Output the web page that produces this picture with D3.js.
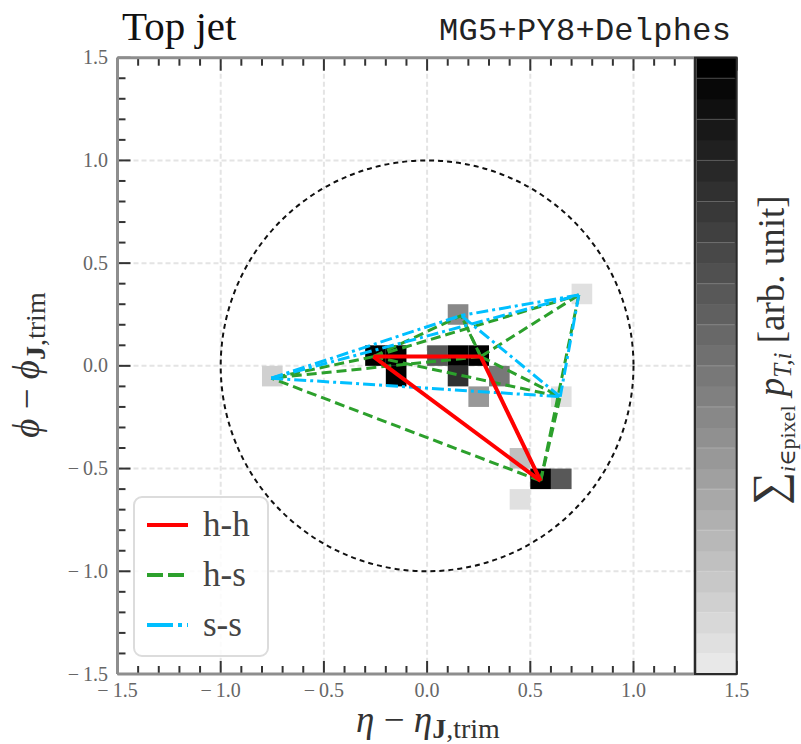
<!DOCTYPE html>
<html>
<head>
<meta charset="utf-8">
<script src="https://cdn.jsdelivr.net/npm/d3@7"></script>
<style>
  html, body { margin: 0; padding: 0; background: #fff; }
  svg { display: block; }
  text { font-family: "Liberation Serif", "DejaVu Serif", serif; }
</style>
</head>
<body>
<svg id="chart" width="801" height="744"></svg>
<script>
// Calorimeter pixels of the trimmed top jet (cell centres, summed pT in arbitrary units)
const pixelEta = [-0.75, -0.25, -0.15, -0.15, 0.05, 0.15, 0.25, 0.15, 0.15, 0.25, 0.35, 0.75, 0.65, 0.45, 0.55, 0.65, 0.45];
const pixelPhi = [-0.05, 0.05, 0.05, -0.05, 0.05, 0.05, 0.05, -0.05, 0.25, -0.15, -0.05, 0.35, -0.15, -0.45, -0.55, -0.55, -0.65];
const pixelPt  = [0.12, 1.0, 1.0, 0.98, 0.63, 1.0, 0.98, 0.78, 0.42, 0.34, 0.49, 0.05, 0.05, 0.19, 1.0, 0.63, 0.05];

// Hard and soft subjet axes
const hardEta = [-0.26, 0.26, 0.55];
const hardPhi = [0.045, 0.045, -0.56];
const softEta = [-0.755, 0.735, 0.645, 0.165];
const softPhi = [-0.06, 0.345, -0.15, 0.245];

// Axis ticks
const majorTicks = [-1.5, -1.0, -0.5, 0.0, 0.5, 1.0, 1.5];
const minorTicks = d3.range(-15, 16).map(i => i / 10);
const gridTicks = [-1.0, -0.5, 0.0, 0.5, 1.0];
const legendLabels = ["h-h", "h-s", "s-s"];
const cellSize = 0.1;
const colorLevels = 30;

const svg = d3.select("#chart");
const x = d3.scaleLinear().domain([-1.5, 1.5]).range([117.5, 736.7]);
const y = d3.scaleLinear().domain([-1.5, 1.5]).range([674, 57.7]);
const X0 = x(-1.5), X1 = x(1.5), Y0 = y(1.5), Y1 = y(-1.5);

// Discrete grey colour map: light grey for low pT, black for high
const levelColors = d3.range(colorLevels).map(i => d3.interpolateRgb("#e8e8e8", "#000000")(i / (colorLevels - 1)));
const color = d3.scaleQuantize().domain([0, 1]).range(levelColors);

svg.append("defs").append("clipPath").attr("id", "plotclip")
  .append("rect").attr("x", X0).attr("y", Y0).attr("width", X1 - X0).attr("height", Y1 - Y0);

// Grid
const grid = svg.append("g").attr("stroke", "#e4e4e4").attr("stroke-width", 2).attr("stroke-dasharray", "5,3");
grid.selectAll("line.gx").data(gridTicks).join("line")
  .attr("x1", d => x(d)).attr("x2", d => x(d)).attr("y1", Y0).attr("y2", Y1);
grid.selectAll("line.gy").data(gridTicks).join("line")
  .attr("x1", X0).attr("x2", X1).attr("y1", d => y(d)).attr("y2", d => y(d));

const plot = svg.append("g").attr("clip-path", "url(#plotclip)");

// Pixels
plot.selectAll("rect.pix").data(pixelEta.map((e, i) => ({ eta: e, phi: pixelPhi[i], pt: pixelPt[i] })))
  .join("rect")
  .attr("x", d => x(d.eta - cellSize / 2))
  .attr("y", d => y(d.phi + cellSize / 2))
  .attr("width", d => x(d.eta + cellSize / 2) - x(d.eta - cellSize / 2))
  .attr("height", d => y(d.phi - cellSize / 2) - y(d.phi + cellSize / 2))
  .attr("fill", d => color(Math.min(d.pt, 0.999)));

// Jet radius R = 1
plot.append("ellipse")
  .attr("cx", x(0)).attr("cy", y(0))
  .attr("rx", x(1) - x(0)).attr("ry", y(0) - y(1))
  .attr("fill", "none").attr("stroke", "#111").attr("stroke-width", 2).attr("stroke-dasharray", "5,4");

const hard = hardEta.map((e, i) => [e, hardPhi[i]]);
const soft = softEta.map((e, i) => [e, softPhi[i]]);
const pairs = (a, b) => a.flatMap(p => b.map(q => [p, q]));
const selfPairs = a => a.flatMap((p, i) => a.slice(i + 1).map(q => [p, q]));

function drawPairs(list, stroke, width, dash) {
  plot.append("g").selectAll("line").data(list).join("line")
    .attr("x1", d => x(d[0][0])).attr("y1", d => y(d[0][1]))
    .attr("x2", d => x(d[1][0])).attr("y2", d => y(d[1][1]))
    .attr("stroke", stroke).attr("stroke-width", width)
    .attr("stroke-dasharray", dash).attr("stroke-linecap", "butt");
}
drawPairs(pairs(hard, soft), "#2ca02c", 3, "10,5");
drawPairs(selfPairs(soft), "#00bfff", 3, "12,4,3,4");
drawPairs(selfPairs(hard), "#ff0000", 4, null);

// Ticks (inward) on bottom, top and left
const ticks = svg.append("g").attr("stroke", "#333").attr("stroke-width", 2);
const isMajor = v => majorTicks.some(m => Math.abs(m - v) < 1e-9);
minorTicks.forEach(v => {
  const len = isMajor(v) ? 13 : 8;
  ticks.append("line").attr("x1", x(v)).attr("x2", x(v)).attr("y1", Y1).attr("y2", Y1 - len);
  ticks.append("line").attr("x1", x(v)).attr("x2", x(v)).attr("y1", Y0).attr("y2", Y0 + len);
  ticks.append("line").attr("x1", X0).attr("x2", X0 + len).attr("y1", y(v)).attr("y2", y(v));
});

// Spines
const spines = svg.append("g").attr("stroke", "#8e8e8e").attr("stroke-width", 3).attr("fill", "none");
spines.append("line").attr("x1", X0).attr("x2", X1).attr("y1", Y1).attr("y2", Y1);
spines.append("line").attr("x1", X0).attr("x2", X1).attr("y1", Y0).attr("y2", Y0);
spines.append("line").attr("x1", X0).attr("x2", X0).attr("y1", Y0).attr("y2", Y1);

// Colour bar on the right edge of the axes
const cbX0 = 695, cbX1 = X1;
const cbY = d3.scaleLinear().domain([0, colorLevels]).range([Y1, Y0]);
const cb = svg.append("g");
cb.selectAll("rect").data(levelColors).join("rect")
  .attr("x", cbX0).attr("width", cbX1 - cbX0)
  .attr("y", (d, i) => cbY(i + 1)).attr("height", (d, i) => cbY(i) - cbY(i + 1) + 0.5)
  .attr("fill", d => d);
cb.selectAll("line.seam").data(d3.range(1, colorLevels).filter(i => i % 2 === 1)).join("line")
  .attr("x1", cbX0 + 2).attr("x2", cbX1 - 2)
  .attr("y1", d => cbY(d)).attr("y2", d => cbY(d))
  .attr("stroke", "#fff").attr("stroke-opacity", 0.25).attr("stroke-width", 1);
cb.append("line").attr("x1", cbX0).attr("x2", cbX0).attr("y1", Y0).attr("y2", Y1)
  .attr("stroke", "#8a8a8a").attr("stroke-width", 3);
cb.append("rect").attr("x", cbX0).attr("y", Y0).attr("width", cbX1 - cbX0).attr("height", Y1 - Y0)
  .attr("fill", "none").attr("stroke", "#2a2a2a").attr("stroke-width", 2);

// Tick labels (wide minus sign, as in TeX)
const fmt = v => (v < 0 ? "\u2212\u2009" : "") + Math.abs(v).toFixed(1);
svg.append("g").selectAll("text").data(majorTicks).join("text")
  .attr("x", d => x(d)).attr("y", 697)
  .attr("text-anchor", "middle").attr("font-size", 20).attr("fill", "#666")
  .text(fmt);
svg.append("g").selectAll("text").data(majorTicks).join("text")
  .attr("x", 108).attr("y", d => y(d) + 6.5)
  .attr("text-anchor", "end").attr("font-size", 20).attr("fill", "#666")
  .text(fmt);

// Titles
svg.append("text").attr("x", 122).attr("y", 40).attr("font-size", 41).attr("fill", "#111").text("Top jet");
svg.append("text").attr("x", 731).attr("y", 40).attr("text-anchor", "end")
  .style("font-family", "'Liberation Mono', 'DejaVu Sans Mono', monospace")
  .attr("font-size", 32).attr("fill", "#222").attr("textLength", 292).text("MG5+PY8+Delphes");

// Axis labels
const xl = svg.append("text").attr("x", 428).attr("y", 732).attr("text-anchor", "middle")
  .attr("font-size", 37).attr("fill", "#333");
xl.append("tspan").attr("font-style", "italic").text("\u03b7");
xl.append("tspan").text(" \u2212 ");
xl.append("tspan").attr("font-style", "italic").text("\u03b7");
xl.append("tspan").attr("font-size", 28).attr("dy", 6).attr("font-weight", "bold").text("J");
xl.append("tspan").attr("font-size", 28).text(",trim");

const yl = svg.append("text").attr("transform", "translate(39,365) rotate(-90)").attr("text-anchor", "middle")
  .attr("font-size", 37).attr("fill", "#333");
yl.append("tspan").attr("font-style", "italic").text("\u03d5");
yl.append("tspan").text(" \u2212 ");
yl.append("tspan").attr("font-style", "italic").text("\u03d5");
yl.append("tspan").attr("font-size", 28).attr("dy", 6).attr("font-weight", "bold").text("J");
yl.append("tspan").attr("font-size", 28).text(",trim");

// Colour bar label
const cl = svg.append("text").attr("transform", "translate(784,350) rotate(-90)").attr("text-anchor", "middle")
  .attr("font-size", 37).attr("fill", "#333");
cl.append("tspan").attr("font-size", 46).text("\u2211");
cl.append("tspan").attr("font-size", 22).attr("dy", 11).attr("font-style", "italic").text("i");
cl.append("tspan").attr("font-size", 22).text("\u2208pixel");
cl.append("tspan").attr("dy", -11).text(" ");
cl.append("tspan").attr("font-style", "italic").text("p");
cl.append("tspan").attr("font-size", 25).attr("dy", 7).attr("font-style", "italic").text("T,i");
cl.append("tspan").attr("dy", -7).text(" [arb. unit]");

// Legend
const lg = svg.append("g");
lg.append("rect").attr("x", 134).attr("y", 497).attr("width", 134).attr("height", 159).attr("rx", 8)
  .attr("fill", "#fff").attr("fill-opacity", 0.85).attr("stroke", "#dcdcdc").attr("stroke-width", 2);
const legStyles = [
  { stroke: "#ff0000", dash: null },
  { stroke: "#2ca02c", dash: "16,5" },
  { stroke: "#00bfff", dash: "26,5,4,5" }
];
legendLabels.forEach((lab, i) => {
  const yy = 525 + i * 50;
  lg.append("line").attr("x1", 147).attr("x2", 188).attr("y1", yy).attr("y2", yy)
    .attr("stroke", legStyles[i].stroke).attr("stroke-width", 4)
    .attr("stroke-dasharray", legStyles[i].dash);
  lg.append("text").attr("x", 203).attr("y", yy + 11).attr("font-size", 35).attr("fill", "#444").text(lab);
});
</script>
</body>
</html>
